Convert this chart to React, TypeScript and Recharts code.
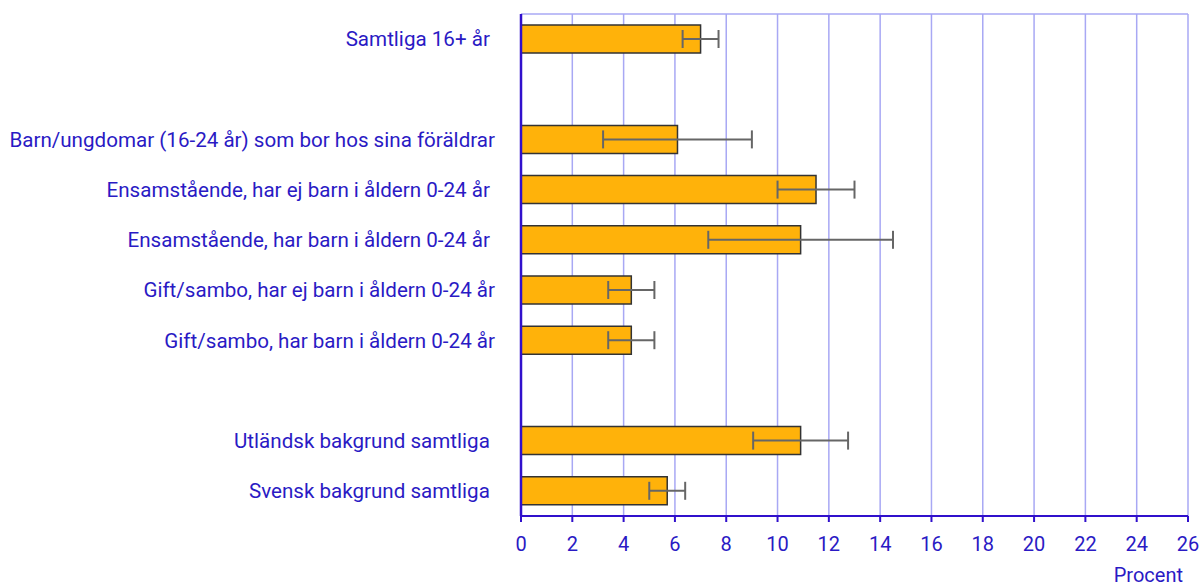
import { Bar, BarChart, CartesianGrid, ErrorBar, XAxis, YAxis } from 'recharts'

const categories = [
  'Samtliga 16+ år\u00a0',
  '',
  'Barn/ungdomar (16-24 år) som bor hos sina föräldrar',
  'Ensamstående, har ej barn i åldern 0-24 år\u00a0',
  'Ensamstående, har barn i åldern 0-24 år\u00a0',
  'Gift/sambo, har ej barn i åldern 0-24 år',
  'Gift/sambo, har barn i åldern 0-24 år',
  ' ',
  'Utländsk bakgrund samtliga\u00a0',
  'Svensk bakgrund samtliga\u00a0',
]
const values = [7.0, null, 6.1, 11.5, 10.9, 4.3, 4.3, null, 10.9, 5.7]
const errLow = [0.7, 0, 2.9, 1.5, 3.6, 0.9, 0.9, 0, 1.85, 0.7]
const errHigh = [0.7, 0, 2.9, 1.5, 3.6, 0.9, 0.9, 0, 1.85, 0.7]
const xTicks = [0, 2, 4, 6, 8, 10, 12, 14, 16, 18, 20, 22, 24, 26]

const data = categories.map((name, i) => ({
  name,
  value: values[i],
  err: values[i] == null ? undefined : [errLow[i], errHigh[i]],
}))

const axisColor = '#3010cc'
const textColor = '#2a1ac4'
const gridColor = '#a8a8f4'

export default function App() {
  return (
    <div style={{ position: 'absolute', left: 0, top: 0, fontFamily: 'Roboto' }}>
      <BarChart
        width={1203}
        height={587}
        data={data}
        layout="vertical"
        margin={{ top: 14, right: 15, bottom: 0, left: 0 }}
        barSize={28}
      >
        <CartesianGrid
          stroke={gridColor}
          strokeWidth={1.5}
          horizontalCoordinatesGenerator={({ offset }: { offset: { top: number } }) => [offset.top]}
        />
        <XAxis
          type="number"
          domain={[0, 26]}
          ticks={xTicks}
          interval={0}
          height={71}
          stroke={axisColor}
          strokeWidth={2}
          tickSize={6}
          tickMargin={15}
          tick={{ fill: textColor, fontSize: 20 }}
          label={{ value: 'Procent', position: 'insideBottomRight', offset: 5, fill: textColor, fontSize: 20 }}
        />
        <YAxis
          type="category"
          dataKey="name"
          width={521}
          stroke={axisColor}
          strokeWidth={2.5}
          tickLine={false}
          tickMargin={20}
          interval={0}
          tick={{ fill: textColor, fontSize: 20.6 }}
        />
        <Bar dataKey="value" fill="#ffb20a" stroke="#333333" strokeWidth={1.5} isAnimationActive={false}>
          <ErrorBar dataKey="err" direction="x" width={9} stroke="#666666" strokeWidth={2} />
        </Bar>
      </BarChart>
    </div>
  )
}
